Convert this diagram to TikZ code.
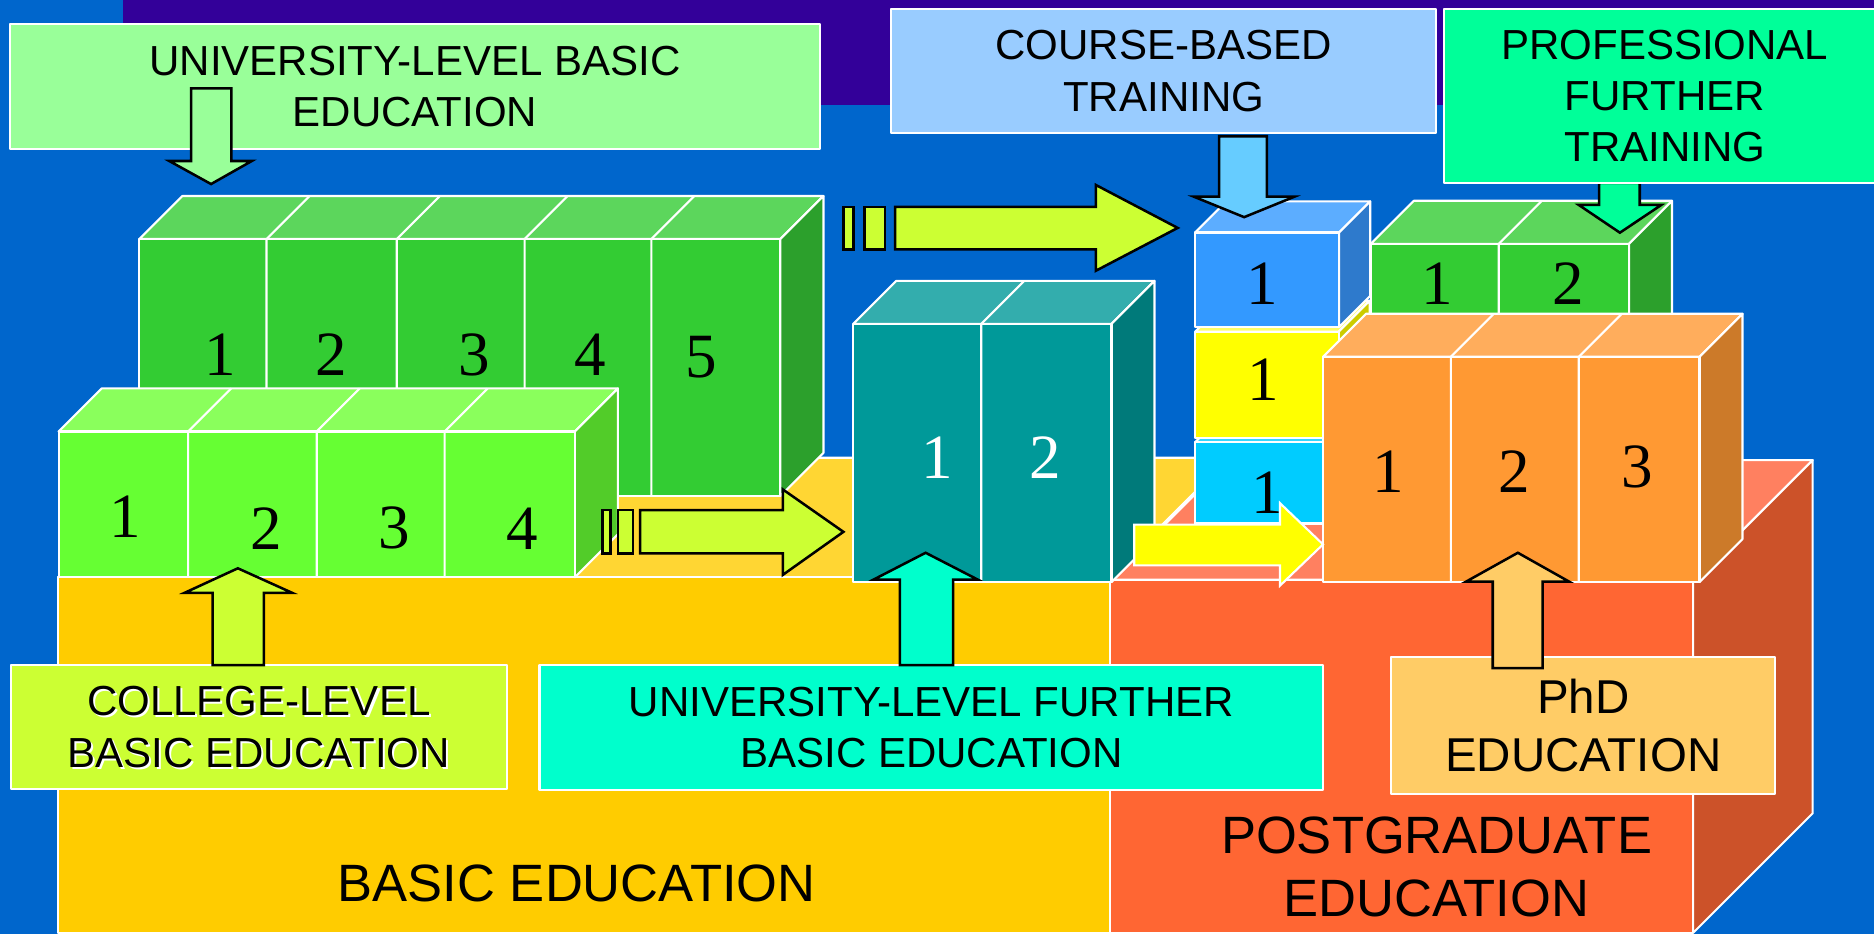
\documentclass[tikz,border=0pt]{standalone}
\usepackage{fontspec}
\setmainfont{Liberation Sans}
\newfontfamily\numfont{Liberation Serif}
\definecolor{bgblue}{HTML}{0066CC}
\definecolor{purp}{HTML}{330099}
\definecolor{ubcol}{HTML}{99FF99}
\definecolor{cbcol}{HTML}{99CCFF}
\definecolor{pbcol}{HTML}{00FF99}
\definecolor{colcol}{HTML}{CCFF33}
\definecolor{ufcol}{HTML}{00FFCC}
\definecolor{phdcol}{HTML}{FFCC66}
\definecolor{cbarr}{HTML}{66CCFF}
\definecolor{gF}{HTML}{33CC33}\definecolor{gT}{HTML}{5CD65C}\definecolor{gS}{HTML}{2CA02C}
\definecolor{lgF}{HTML}{66FF33}\definecolor{lgT}{HTML}{8AFF5C}\definecolor{lgS}{HTML}{52CC29}
\definecolor{tF}{HTML}{009999}\definecolor{tT}{HTML}{33ADAD}\definecolor{tS}{HTML}{007A7A}
\definecolor{bF}{HTML}{3399FF}\definecolor{bT}{HTML}{5CADFF}\definecolor{bS}{HTML}{2E7ACC}
\definecolor{yF}{HTML}{FFFF00}\definecolor{yT}{HTML}{FFFF66}\definecolor{yS}{HTML}{CCCC00}
\definecolor{cF}{HTML}{00CCFF}\definecolor{cT}{HTML}{33D6FF}\definecolor{cS}{HTML}{00A3CC}
\definecolor{oF}{HTML}{FF9933}\definecolor{oT}{HTML}{FFAD5C}\definecolor{oS}{HTML}{CC7A29}
\definecolor{byF}{HTML}{FFCC00}\definecolor{byT}{HTML}{FFD633}
\definecolor{poF}{HTML}{FF6633}\definecolor{poT}{HTML}{FF8060}\definecolor{poS}{HTML}{CC5229}
% cuboid: x1 y1 x2 y2 depth front top side
\newcommand\cuboid[8]{%
  \filldraw[edge, fill=#7] (#1,#2) -- ({#1+#5},{#2-#5}) -- ({#3+#5},{#2-#5}) -- (#3,#2) -- cycle;
  \filldraw[edge, fill=#8] (#3,#2) -- ({#3+#5},{#2-#5}) -- ({#3+#5},{#4-#5}) -- (#3,#4) -- cycle;
  \filldraw[edge, fill=#6] (#1,#2) rectangle (#3,#4);
}
% divider: x top bottom depth
\newcommand\segline[4]{%
  \draw[edge] (#1,#3) -- (#1,#2) -- ({#1+#4},{#2-#4});
}
\begin{document}
\begin{tikzpicture}[x=0.01cm,y=-0.01cm,
  edge/.style={draw=white,line width=0.5pt,line join=round},
  arr/.style={draw=black,line width=0.6pt,line join=miter},
  lbox/.style={edge,inner sep=0pt,align=center,font=\fontsize{10}{12.2}\selectfont},
  num/.style={font=\numfont\fontsize{15}{18}\selectfont,inner sep=0pt},
  big/.style={inner sep=0pt,align=center,font=\fontsize{12.5}{15.1}\selectfont}]
\useasboundingbox (0,0) rectangle (1568,781.5);
\fill[bgblue] (0,0) rectangle (1568,781.5);
\fill[purp] (103,0) rectangle (1568,88);

% top label boxes
\node[lbox,fill=ubcol,minimum width=6.776cm,minimum height=1.047cm] (ub) at (347.2,72.35) {UNIVERSITY-LEVEL BASIC\\EDUCATION};
\node[lbox,fill=cbcol,minimum width=4.553cm,minimum height=1.032cm] (cb) at (973.65,59.4) {COURSE-BASED\\TRAINING};

% arrow from university-level basic box
\filldraw[arr,fill=ubcol] (160,74) -- (193.6,74) -- (193.6,134.7) -- (210.7,134.7) -- (176.6,154) -- (141.6,134.7) -- (160,134.7) -- cycle;

% bases
\cuboid{48.6}{483}{928.6}{780.5}{100}{byF}{byT}{byF}
\cuboid{928.6}{485}{1416.7}{780.5}{100}{poF}{poT}{poS}

% upper green block (5)
\cuboid{116.6}{200}{653}{415}{36}{gF}{gT}{gS}
\foreach \x in {223,332,439,545} {\segline{\x}{200}{415}{36}}
\node[num] (u1) at (184,297) {1};
\node[num] (u2) at (277,297) {2};
\node[num] (u3) at (397,297) {3};
\node[num] (u4) at (494,297) {4};
\node[num] (u5) at (587,299) {5};

% lower green block (4)
\cuboid{49}{361}{481}{483}{36}{lgF}{lgT}{lgS}
\foreach \x in {157.4,265,372} {\segline{\x}{361}{483}{36}}
\node[num] (l1) at (105,432) {1};
\node[num] (l2) at (223,442) {2};
\node[num] (l3) at (330,442) {3};
\node[num] (l4) at (437,442) {4};

% teal block (2)
\cuboid{714}{271}{930}{487}{36}{tF}{tT}{tS}
\segline{821}{271}{487}{36}
\node[num,text=white] (t1) at (784,383) {1};
\node[num,text=white] (t2) at (875,383) {2};

% stacked single blocks
\cuboid{1000}{370}{1120}{438}{26}{cF}{cT}{cS}
\node[num] (c1) at (1060,412) {1};
\cuboid{1000}{277.6}{1120}{366.5}{26}{yF}{yT}{yS}
\node[num] (y1) at (1057,318) {1};
\cuboid{1000}{194.5}{1120.5}{273.5}{26}{bF}{bT}{bS}
\node[num] (b1) at (1056,237) {1};

% professional green block (2)
\cuboid{1147}{204}{1363}{330}{36}{gF}{gT}{gS}
\segline{1254}{204}{330}{36}
\node[num] (p1) at (1202.5,237) {1};
\node[num] (p2) at (1312,237) {2};

% orange PhD block (3)
\cuboid{1107}{298.5}{1422}{487}{36}{oF}{oT}{oS}
\foreach \x in {1214,1321} {\segline{\x}{298.5}{487}{36}}
\node[num] (o1) at (1161.5,395) {1};
\node[num] (o2) at (1267,395) {2};
\node[num] (o3) at (1370,391) {3};

% arrows between blocks
\filldraw[arr,fill=colcol] (705.7,173) rectangle (714,208.6);
\filldraw[arr,fill=colcol] (723.5,173) rectangle (740.3,208.6);
\filldraw[arr,fill=colcol] (749,173) -- (917,173) -- (917,154.8) -- (985.4,190.7) -- (917,226.5) -- (917,208.6) -- (749,208.6) -- cycle;
\filldraw[arr,fill=colcol] (504,426.8) rectangle (511,463);
\filldraw[arr,fill=colcol] (517,426.8) rectangle (529.7,463);
\filldraw[arr,fill=colcol] (535.6,426.8) -- (655,426.8) -- (655,409.5) -- (705.7,445) -- (655,481) -- (655,463) -- (535.6,463) -- cycle;
\filldraw[edge,line join=miter,fill=yF] (949,439) -- (1071,439) -- (1071,421) -- (1107,455.5) -- (1071,490) -- (1071,473) -- (949,473) -- cycle;

% arrows from top boxes
\filldraw[arr,fill=cbarr] (1020,114) -- (1060,114) -- (1060,164.6) -- (1083,164.6) -- (1041,181.7) -- (999,164.6) -- (1020,164.6) -- cycle;
\filldraw[arr,fill=pbcol] (1338,153) -- (1372,153) -- (1372,171.5) -- (1390,171.5) -- (1355.4,194.7) -- (1321,171.5) -- (1338,171.5) -- cycle;
\node[lbox,fill=pbcol,minimum width=3.70cm,minimum height=1.452cm] (pb) at (1393,80.4) {PROFESSIONAL\\FURTHER\\TRAINING};

% bottom label boxes
\node[lbox,fill=colcol,minimum width=4.15cm,minimum height=1.035cm] (colb) at (216.5,608.25) {};
\node[inner sep=0pt,align=center,font=\fontsize{10}{12.2}\selectfont,text=white] (colsh) at (218.2,609.9) {COLLEGE-LEVEL\\BASIC EDUCATION};
\node[inner sep=0pt,align=center,font=\fontsize{10}{12.2}\selectfont] (colt) at (216.5,608.25) {COLLEGE-LEVEL\\BASIC EDUCATION};
\node[lbox,fill=ufcol,minimum width=6.554cm,minimum height=1.043cm] (ufb) at (779.3,608.65) {UNIVERSITY-LEVEL FURTHER\\BASIC EDUCATION};
\node[lbox,fill=phdcol,minimum width=3.214cm,minimum height=1.146cm,font=\fontsize{11.3}{13.85}\selectfont] (phdb) at (1324.7,607.1) {PhD\\EDUCATION};

% upward arrows
\filldraw[arr,fill=colcol] (178,556.5) -- (178,496) -- (154.5,496) -- (199,475.5) -- (244.4,496) -- (220.8,496) -- (220.8,556.5) -- cycle;
\filldraw[arr,fill=ufcol] (753,556.5) -- (753,485) -- (730.8,485) -- (774.5,462.5) -- (818.2,485) -- (797.5,485) -- (797.5,556.5) -- cycle;
\filldraw[arr,fill=phdcol] (1249,559) -- (1249,486.7) -- (1226.6,486.7) -- (1270,462.5) -- (1313,486.7) -- (1290.7,486.7) -- (1290.7,559) -- cycle;

% base labels
\node[big] (basic) at (482.5,739) {BASIC EDUCATION};
\node[big] (post) at (1202,725.2) {POSTGRADUATE\\EDUCATION};
\end{tikzpicture}
\end{document}
